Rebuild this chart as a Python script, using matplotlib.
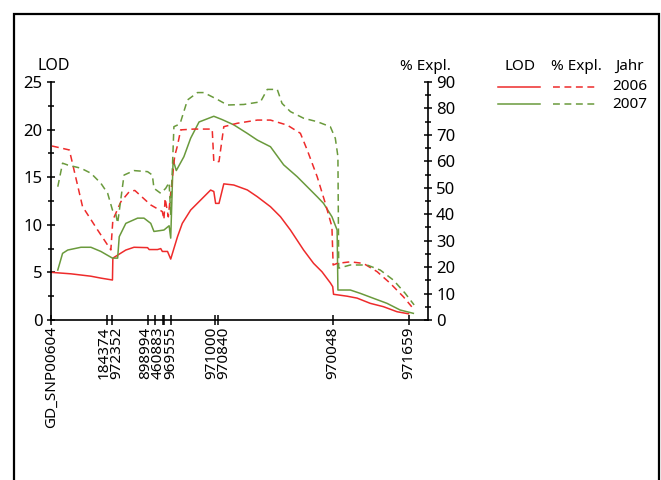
import matplotlib
matplotlib.use("Agg")
from matplotlib import pyplot as plt
from matplotlib.lines import Line2D
from matplotlib.patches import Rectangle
from matplotlib.ticker import MultipleLocator

plt.rcParams['font.family'] = ['Noto Sans', 'DejaVu Sans']
plt.rcParams['font.size'] = 11

RED = '#ee2b2b'
GREEN = '#6a9a3c'

# marker positions (cM) and their names
marker_pos = [0, 14, 15.4, 24.3, 26.1, 28.1, 28.4, 30, 41, 41.9, 70.7, 89.6]
label_names = ['GD_SNP00604', '184374', '972352', '898994', '460883', '969555',
               '971000', '970840', '970048', '971659']
label_pos = [0, 13.2, 16.6, 23.8, 26.8, 30.1, 40.2, 43.3, 70.7, 89.6]

# LOD 2006
lod06_x = [0.25, 5, 10, 12.5, 15.4, 15.5, 18.75, 20.8, 24.2, 24.6, 26.7, 27.5, 27.9,
           29.2, 30, 31.7, 32.9, 35, 37.5, 40, 40.8, 41.25, 42.1, 43.3, 45.8, 49.2,
           51.7, 55, 57.5, 60, 63.3, 65.8, 67.9, 70, 70.6, 70.8, 74.2, 76.7, 80,
           83.3, 86.7, 89.6]
lod06 = [5.0, 4.85, 4.6, 4.4, 4.2, 6.5, 7.35, 7.64, 7.6, 7.4, 7.4, 7.5, 7.2,
         7.2, 6.4, 8.75, 10.15, 11.55, 12.6, 13.65, 13.5, 12.25, 12.25, 14.3, 14.18, 13.66,
         12.95, 11.9, 10.85, 9.45, 7.35, 5.95, 5.07, 3.9, 3.5, 2.7, 2.5, 2.3, 1.75,
         1.4, 0.87, 0.65]

# % explained 2006
pe06_x = [0.25, 4.6, 7.9, 11.7, 15.0, 15.5, 17.5, 19.6, 21.0, 25.0, 27.9, 28.3, 28.6,
          29.4, 30.0, 31.0, 31.7, 32.5, 35.8, 40.4, 40.8, 42.1, 43.3, 46.7, 51.7, 55,
          59.2, 62.5, 64.2, 66.7, 68.75, 70.4, 70.7, 71.7, 75, 78.3, 81.7, 85, 88.3, 90.4]
pe06 = [65.8, 64.3, 42.9, 34, 26.5, 37.8, 44.7, 48.5, 49, 43.5, 41, 38, 46,
        39, 48, 62, 66, 71.9, 72.2, 72.2, 59.9, 59.9, 73.1, 74.4, 75.6, 75.6,
        73.7, 70.6, 64.3, 54.2, 44.1, 35.3, 20.8, 21.4, 22.0, 21.4, 18.3, 13.9, 8.8, 5.0]

# LOD 2007
lod07_x = [1.7, 2.9, 4.2, 7.5, 10, 12.5, 15.4, 16.7, 17.1, 18.75, 21.7, 23.3, 25,
           25.8, 28.3, 29.6, 30, 30.6, 31.4, 33.3, 35, 37.1, 40.8, 42.9, 45.8, 49.2,
           51.7, 55, 58.3, 61.7, 64.2, 66.7, 68.3, 70.4, 71.7, 71.9, 75, 77.5, 80.8,
           84.2, 87.5, 90.8]
lod07 = [5.25, 7.0, 7.35, 7.64, 7.64, 7.2, 6.5, 6.5, 8.75, 10.15, 10.7, 10.7, 10.15,
         9.3, 9.45, 9.9, 8.6, 16.8, 15.7, 17.15, 19.1, 20.8, 21.4, 21.05, 20.5, 19.6,
         18.9, 18.2, 16.3, 15.05, 14.0, 12.95, 12.25, 10.85, 9.45, 3.15, 3.15, 2.8, 2.28,
         1.75, 1.05, 0.7]

# % explained 2007
pe07_x = [1.7, 2.9, 4.2, 7.5, 10, 12.5, 14.2, 15.4, 16.25, 16.7, 18.3, 20.8, 24.2,
          25.4, 25.8, 27.5, 28.75, 29.6, 30, 30.8, 32.1, 32.5, 34.2, 36.7, 38.3, 41.7,
          44.2, 48.3, 52.5, 54.2, 56.7, 57.9, 60, 63.3, 66.7, 70, 71.25, 71.9, 72.1,
          75, 79.2, 82.5, 85.8, 88.75, 91]
pe07 = [50.4, 59.3, 58.6, 57.4, 55.5, 51.7, 47.9, 41.6, 40, 36.6, 54.8, 56.5, 56.1,
        54.8, 49.8, 47.9, 49.8, 52, 40, 73.1, 74, 75, 83.2, 86, 86, 83.4,
        81.3, 81.5, 82.5, 87.2, 87.2, 81.9, 78.8, 76.3, 75, 73.1, 68.7, 61.8, 19.6,
        20.8, 20.8, 18.9, 15.1, 10.1, 5.7]

W, H = 661, 480
fig = plt.figure(figsize=(W / 100, H / 100), dpi=100)
ax = fig.add_axes([51 / W, 1 - 320 / H, (427.7 - 51) / W, (320 - 82) / H])
ax2 = ax.twinx()

dash = (0, (4.5, 3))
ax.plot(lod06_x, lod06, color=RED, lw=1.1)
ax.plot(lod07_x, lod07, color=GREEN, lw=1.1)
ax2.plot(pe06_x, pe06, color=RED, lw=1.1, linestyle=dash)
ax2.plot(pe07_x, pe07, color=GREEN, lw=1.1, linestyle=dash)

ax.set_xlim(0, 94.4)
ax.set_ylim(0, 25)
ax2.set_ylim(0, 90)

for a in (ax, ax2):
    a.spines['top'].set_visible(False)
    for s in a.spines.values():
        s.set_linewidth(1.2)
ax.spines['right'].set_visible(False)
ax2.spines['left'].set_visible(False)
ax2.spines['bottom'].set_visible(False)

ax.yaxis.set_major_locator(MultipleLocator(5))
ax.yaxis.set_minor_locator(MultipleLocator(2.5))
ax2.yaxis.set_major_locator(MultipleLocator(10))
ax2.yaxis.set_minor_locator(MultipleLocator(5))
for a in (ax, ax2):
    a.tick_params(axis='y', direction='inout', length=6, width=1.1, pad=3, labelsize=12)
    a.tick_params(axis='y', which='minor', direction='inout', length=5, width=1.1)

ax.set_xticks(marker_pos)
ax.set_xticklabels([])
ax.tick_params(axis='x', direction='inout', length=7, width=1.1)
for name, x in zip(label_names, label_pos):
    ax.text(x, -0.027, name, transform=ax.get_xaxis_transform(), rotation=90,
            ha='center', va='top', fontsize=11)

fig.text(54 / W, 1 - 66 / H, 'LOD', ha='center', va='center', fontsize=11.5)
fig.text(425 / W, 1 - 66 / H, '% Expl.', ha='center', va='center')

# legend
fig.text(520 / W, 1 - 66 / H, 'LOD', ha='center', va='center')
fig.text(576 / W, 1 - 66 / H, '% Expl.', ha='center', va='center')
fig.text(629 / W, 1 - 66 / H, 'Jahr', ha='center', va='center')
for yy, col, yr in [(87, RED, '2006'), (104, GREEN, '2007')]:
    fy = 1 - yy / H
    fig.add_artist(Line2D([498 / W, 540 / W], [fy, fy], color=col, lw=1.1))
    fig.add_artist(Line2D([553 / W, 597 / W], [fy, fy], color=col, lw=1.1, linestyle=dash))
    fig.text(612 / W, fy, yr, ha='left', va='center')

fig.add_artist(Rectangle((14 / W, -0.1), (659 - 14) / W, 1.1 - 14 / H, fill=False,
                         edgecolor='black', lw=1.6, transform=fig.transFigure, clip_on=False))

fig.savefig('out.png', dpi=100)
